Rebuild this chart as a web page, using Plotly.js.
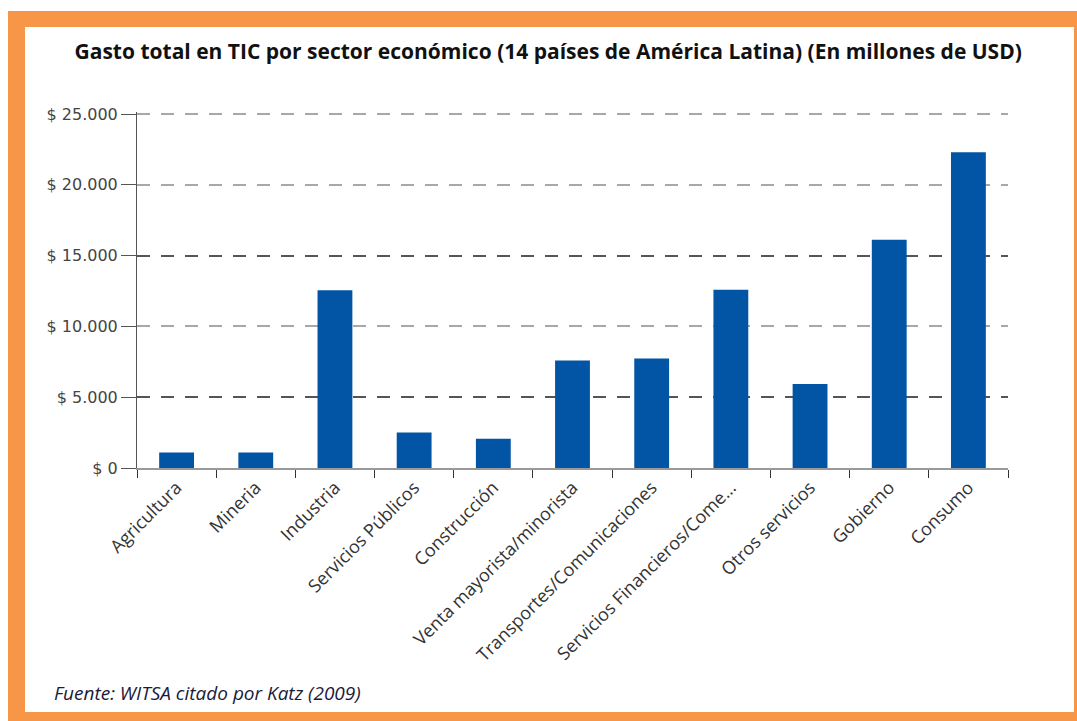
<!DOCTYPE html>
<html>
<head>
<meta charset="utf-8">
<script src="https://cdn.plot.ly/plotly-3.0.1.min.js"></script>
<style>
  html, body { margin:0; padding:0; background:#fff; width:1077px; height:721px; overflow:hidden; }
  #outer { position:absolute; left:8px; top:11px; width:1069px; height:710px; background:#F79646; }
  #inner { position:absolute; left:25px; top:27px; width:1049px; height:685px; background:#fff; }
  #chart { position:absolute; left:0; top:0; width:1077px; height:721px; }
</style>
</head>
<body>
<div id="outer"></div>
<div id="inner"></div>
<div id="chart"></div>
<script>
const categories = ["Agricultura", "Mineria", "Industria", "Servicios Públicos", "Construcción",
  "Venta mayorista/minorista", "Transportes/Comunicaciones", "Servicios Financieros/Come...",
  "Otros servicios", "Gobierno", "Consumo"];
const gasto = [1100, 1100, 12550, 2500, 2070, 7600, 7730, 12580, 5940, 16120, 22300];
const yTickVals = [0, 5000, 10000, 15000, 20000, 25000];
const yTickText = ["$ 0", "$ 5.000", "$ 10.000", "$ 15.000", "$ 20.000", "$ 25.000"];
const darkGridVals = [5000, 15000];
const yRange = [0, 25141];

const trace = {
  type: "bar",
  x: categories,
  y: gasto,
  marker: { color: "#0254A5" },
  hoverinfo: "x+y"
};
const gridHelper = { type: "scatter", x: [], y: [], yaxis: "y2", hoverinfo: "skip", showlegend: false };

const layout = {
  width: 1077, height: 721,
  margin: { l: 137, r: 69, t: 112, b: 253 },
  paper_bgcolor: "rgba(0,0,0,0)",
  plot_bgcolor: "rgba(0,0,0,0)",
  showlegend: false,
  bargap: 0.56,
  title: {
    text: "<b>Gasto total en TIC por sector económico (14 países de América Latina) (En millones de USD)</b>",
    font: { family: "Open Sans", size: 21, color: "#111" },
    x: 0.509, xanchor: "center", xref: "container",
    y: 0.928, yanchor: "middle", yref: "container"
  },
  xaxis: {
    type: "category",
    tickangle: -45,
    tickson: "boundaries",
    ticks: "outside", ticklen: 8, tickcolor: "#333", tickwidth: 1,
    showline: true, linecolor: "#999", linewidth: 2,
    showgrid: false,
    tickfont: { family: "Open Sans", size: 18, color: "#333" },
    fixedrange: true
  },
  yaxis: {
    range: yRange,
    tickvals: yTickVals, ticktext: yTickText,
    ticks: "outside", ticklen: 15, tickcolor: "#555", tickwidth: 1,
    showline: true, linecolor: "#555", linewidth: 1,
    showgrid: true, gridcolor: "#a8a8a8", gridwidth: 2, griddash: "13px,11px",
    zeroline: false,
    tickfont: { family: "DejaVu Sans", size: 16, color: "#444" },
    fixedrange: true
  },
  yaxis2: {
    overlaying: "y", side: "left",
    range: yRange,
    tickvals: darkGridVals,
    showticklabels: false, ticks: "",
    showline: false,
    showgrid: true, gridcolor: "#555", gridwidth: 2, griddash: "13px,11px",
    zeroline: false, fixedrange: true
  },
  annotations: [{
    text: "<i>Fuente: WITSA citado por Katz (2009)</i>",
    xref: "paper", yref: "paper",
    x: -0.0976, xanchor: "left",
    y: -0.633, yanchor: "middle",
    showarrow: false,
    font: { family: "Open Sans", size: 19, color: "#1a1a3a" }
  }]
};

Plotly.newPlot("chart", [trace, gridHelper], layout, { displayModeBar: false, staticPlot: true });
</script>
</body>
</html>
